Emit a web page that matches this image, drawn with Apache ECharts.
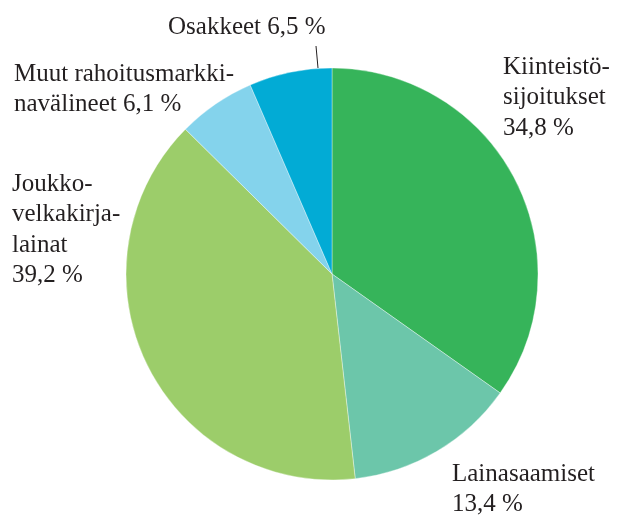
<!DOCTYPE html>
<html>
<head>
<meta charset="utf-8">
<script src="https://cdn.jsdelivr.net/npm/echarts@6/dist/echarts.min.js"></script>
<style>
html,body{margin:0;padding:0;background:#fff;}
#chart{width:619px;height:515px;}
</style>
</head>
<body>
<div id="chart"></div>
<script>
// osuudet, myötäpäivään ylhäältä
var names = ['Kiinteistösijoitukset', 'Lainasaamiset', 'Joukkovelkakirjalainat', 'Muut rahoitusmarkkinavälineet', 'Osakkeet'];
var values = [34.8, 13.4, 39.2, 6.1, 6.5];
var labelTexts = [
	'Kiinteistö-\nsijoitukset\n34,8 %',
	'Lainasaamiset\n13,4 %',
	'Joukko-\nvelkakirja-\nlainat\n39,2 %',
	'Muut rahoitusmarkki-\nnavälineet 6,1 %',
	'Osakkeet 6,5 %'
];
var colors = ['#36b45a', '#6cc6aa', '#9ccd6a', '#84d3ec', '#02abd5'];

// labelien paikat (vasen yläkulma)
var labelPos = [
	[503, 52],
	[452, 459],
	[12, 169],
	[14, 59],
	[168, 12]
];

var pieData = [];
for (var i = 0; i < names.length; i++) {
	pieData.push({
		name: names[i],
		value: values[i],
		itemStyle: {color: colors[i]},
		labelLine: {show: i == 4}
	});
}

var chart = echarts.init(document.getElementById('chart'));
var option = {
	animation: false,
	series: [{
		type: 'pie',
		center: [332, 274],
		radius: [0, 206],
		startAngle: 90,
		clockwise: true,
		data: pieData,
		itemStyle: {
			borderColor: 'rgba(255,255,255,0.6)',
			borderWidth: 0.6
		},
		label: {
			show: true,
			position: 'outside',
			overflow: 'none',
			edgeDistance: 0,
			fontFamily: 'Liberation Serif',
			fontSize: 25,
			lineHeight: 30.5,
			color: '#231f20',
			formatter: function(p){
				return labelTexts[p.dataIndex];
			}
		},
		labelLine: {
			lineStyle: {color: '#231f20', width: 1}
		},
		labelLayout: function(params){
			var pos = labelPos[params.dataIndex];
			var res = {x: pos[0], y: pos[1], align: 'left', verticalAlign: 'top'};
			if (params.dataIndex == 4) {
				res.labelLinePoints = [[318, 68], [316, 46], [316, 46]];
			}
			return res;
		}
	}]
};
chart.setOption(option);
</script>
</body>
</html>
